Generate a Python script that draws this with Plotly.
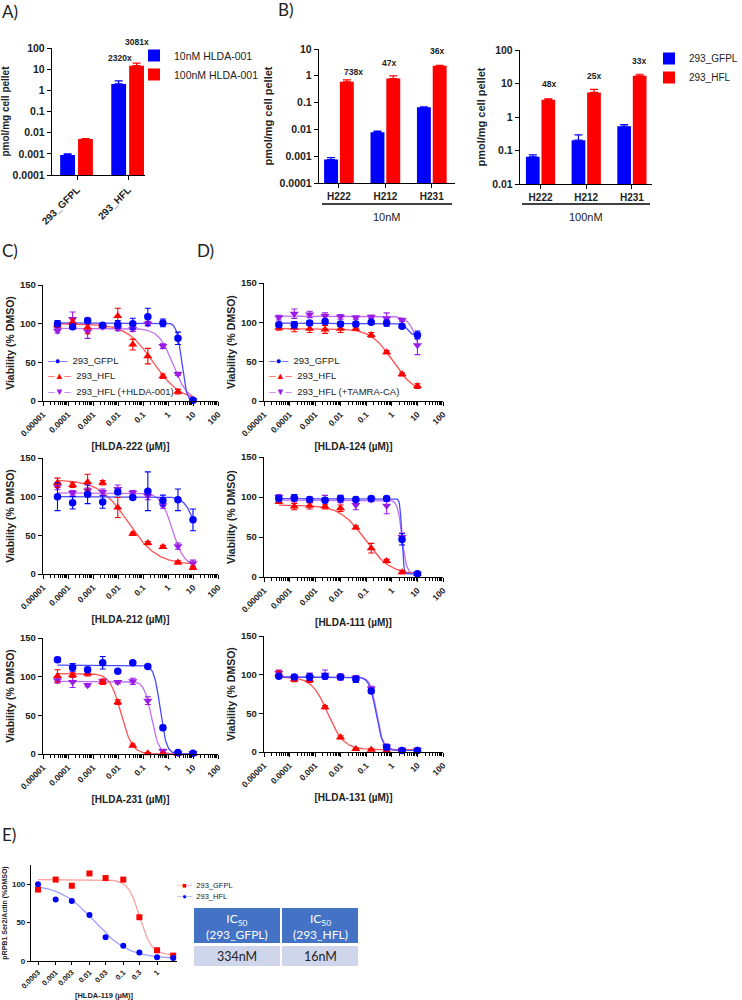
import numpy as np
import plotly.graph_objects as go

W, H = 742, 1000

# ======================= DATA =======================
# Panel A : uptake, pmol/mg cell pellet
a_categories = ['293_GFPL', '293_HFL']
a_series_names = ['10nM HLDA-001', '100nM HLDA-001']
a_10nm = [0.00088, 2.0]
a_10nm_err = [0.00012, 0.8]
a_100nm = [0.005, 14.6]
a_100nm_err = [0.0002, 4.5]
a_fold_labels = ['2320x', '3081x']

# Panel B : uptake of three compounds
b_categories = ['H222', 'H212', 'H231']
b_series_names = ['293_GFPL', '293_HFL']
b10_gfpl = [0.00075, 0.0078, 0.067]
b10_gfpl_err = [0.00014, 0.0008, 0.002]
b10_hfl = [0.6, 0.79, 2.37]
b10_hfl_err = [0.1, 0.2, 0.1]
b10_fold_labels = ['738x', '47x', '36x']
b100_gfpl = [0.065, 0.204, 0.53]
b100_gfpl_err = [0.009, 0.09, 0.06]
b100_hfl = [3.27, 5.4, 16.9]
b100_hfl_err = [0.2, 1.3, 2.0]
b100_fold_labels = ['48x', '25x', '33x']

# Panels C / D : viability (% DMSO) vs concentration (uM)
conc = [0.000038, 0.000153, 0.00061, 0.00244, 0.0098, 0.039, 0.156, 0.625, 2.5, 10.0]
log_ticks = [0.00001, 0.0001, 0.001, 0.01, 0.1, 1, 10, 100]
log_ticktext = ['0.00001', '0.0001', '0.001', '0.01', '0.1', '1', '10', '100']

# fit parameters: [top, bottom, IC50 (uM), hill slope]
v222_gfpl = [100, 96, 104, 98, 99, 100, 109, 101, 81, 1]
v222_gfpl_err = [4, 3, 3, 2, 5, 7, 11, 5, 8, 2]
v222_hfl = [98, 102, 95, 97, 110, 73, 58, 32, 12, 1]
v222_hfl_err = [3, 4, 8, 2, 10, 7, 10, 3, 3, 1]
v222_comp = [91, 106, 90, 96, 94, 93, 100, 71, 35, 1]
v222_comp_err = [3, 9, 9, 2, 3, 3, 3, 3, 2, 1]
fit222_gfpl = [101, 0, 3.5, 4.4]
fit222_hfl = [100, 0, 0.26, 0.8]
fit222_comp = [94, 0, 1.6, 1.5]

v212_gfpl = [100, 92, 103, 93, 106, 99, 107, 95, 96, 70]
v212_gfpl_err = [18, 8, 12, 8, 3, 2, 25, 7, 14, 14]
v212_hfl = [118, 115, 119, 118, 86, 52, 40, 35, 15, 8]
v212_hfl_err = [6, 3, 10, 3, 13, 2, 2, 2, 2, 2]
v212_comp = [113, 105, 108, 106, 110, 105, 101, 89, 36, 14]
v212_comp_err = [4, 3, 3, 4, 5, 3, 5, 4, 4, 4]
fit212_gfpl = [100, 0, 15.5, 1.9]
fit212_hfl = [122, 12, 0.025, 0.75]
fit212_comp = [105, 10, 1.5, 1.85]

v231_gfpl = [122, 112, 109, 118, 107, 118, 113, 34, 2, 1]
v231_gfpl_err = [3, 5, 3, 8, 2, 2, 2, 3, 1, 1]
v231_hfl = [101, 102, 104, 93, 67, 11, 1, 0, 0, 0]
v231_hfl_err = [8, 3, 3, 3, 3, 2, 1, 1, 1, 1]
v231_comp = [95, 93, 89, 94, 93, 94, 69, 4, 1, 1]
v231_comp_err = [3, 7, 2, 3, 2, 4, 5, 2, 1, 1]
fit231_gfpl = [115, 0, 0.49, 3.5]
fit231_hfl = [104, 0, 0.0133, 1.97]
fit231_comp = [94, 0, 0.219, 2.98]

v124_gfpl = [97, 97, 99, 101, 98, 98, 100, 99, 95, 84]
v124_gfpl_err = [3, 4, 3, 3, 3, 3, 2, 4, 2, 5]
v124_hfl = [93, 93, 92, 91, 92, 92, 84, 62, 34, 19]
v124_hfl_err = [3, 5, 5, 5, 5, 2, 3, 2, 2, 3]
v124_comp = [106, 111, 110, 108, 107, 106, 107, 105, 103, 71]
v124_comp_err = [3, 6, 4, 4, 3, 2, 2, 7, 2, 12]
fit124_gfpl = [99, 84, 3.8, 5]
fit124_hfl = [92, 10, 1.07, 1.03]
fit124_comp = [108, 0, 15, 2]

v111_gfpl = [98, 99, 97, 96, 98, 97, 98, 98, 47, 4]
v111_gfpl_err = [3, 4, 3, 3, 4, 3, 3, 3, 7, 2]
v111_hfl = [94, 88, 89, 88, 86, 62, 36, 20, 6, 4]
v111_hfl_err = [2, 4, 4, 3, 4, 2, 6, 2, 2, 1]
v111_comp = [100, 97, 96, 95, 96, 90, 97, 89, 50, 4]
v111_comp_err = [3, 3, 3, 7, 3, 6, 3, 10, 5, 2]
fit111_gfpl = [98, 4, 2.45, 12]
fit111_hfl = [90, 3, 0.09, 0.89]
fit111_comp = [96, 4, 2.5, 5]

v131_gfpl = [98, 97, 97, 98, 97, 94, 79, 6, 2, 2]
v131_gfpl_err = [3, 3, 4, 3, 3, 4, 3, 3, 1, 1]
v131_hfl = [101, 94, 93, 58, 19, 4, 3, 2, 2, 2]
v131_hfl_err = [4, 3, 3, 2, 2, 1, 1, 1, 1, 1]
v131_comp = [102, 96, 97, 100, 97, 96, 82, 7, 3, 3]
v131_comp_err = [4, 3, 5, 6, 4, 3, 3, 3, 1, 1]
fit131_gfpl = [97, 2, 0.242, 3.3]
fit131_hfl = [97, 3, 0.00313, 1.39]
fit131_comp = [97, 3, 0.256, 3.49]

# Panel E : pRPB1 Ser2/Actin (%DMSO)
e_conc = [0.0003, 0.001, 0.003, 0.01, 0.03, 0.1, 0.3, 1, 3]
e_ticks = [0.0003, 0.001, 0.003, 0.01, 0.03, 0.1, 0.3, 1]
e_ticktext = ['0.0003', '0.001', '0.003', '0.01', '0.03', '0.1', '0.3', '1']
e_gfpl = [93, 106, 98, 114, 108, 106, 57, 14, 7]
e_hfl = [100, 80, 78, 60, 31, 20, 11, 5, 4]
e_fit_gfpl = [106, 8, 0.31, 2.5]
e_fit_hfl = [100, 3, 0.014, 0.85]
e_table_header = ['IC<sub>50</sub><br>(293_GFPL)', 'IC<sub>50</sub><br>(293_HFL)']
e_table_values = ['334nM', '16nM']

# ======================= STYLE =======================
FONT = 'Liberation Sans, Arial, sans-serif'
LFONT = 'Lato, Open Sans, sans-serif'
TXT = '#222222'
BLUE, RED, PURPLE = '#0000FF', '#FF0000', '#9A1BE6'
BLUE_L, RED_L, PURPLE_L = '#4a4aff', '#ff5252', '#c170f2'
E_RED_L, E_BLUE_L = '#ff9c9c', '#9c9cff'


def fx(x):
    return x / W


def fy(y):
    return 1 - y / H


def dom_x(x0, x1):
    return [x0 / W, x1 / W]


def dom_y(top, bottom):
    return [1 - bottom / H, 1 - top / H]


def bold(size):
    return dict(family=FONT, size=size, color=TXT, weight='bold')


def base_axis(**kw):
    d = dict(showline=True, linecolor='black', linewidth=1.4, ticks='outside',
             ticklen=4, tickwidth=1.4, tickcolor='black', showgrid=False,
             zeroline=False, automargin=False, tickfont=bold(10))
    d.update(kw)
    return d


def fit_curve(p, xmin, xmax, n=240):
    top, bottom, ic50, hill = p
    xs = np.logspace(np.log10(xmin), np.log10(xmax), n)
    ys = bottom + (top - bottom) / (1 + (xs / ic50) ** hill)
    return xs, ys


fig = go.Figure()
layout = {}
annotations = []
shapes = []

# ======================= PANEL A =======================
fig.add_trace(go.Bar(x=a_categories, y=a_10nm, name=a_series_names[0],
                     marker=dict(color=BLUE, line=dict(width=0)), width=0.29, offset=-0.33,
                     error_y=dict(type='data', array=a_10nm_err, arrayminus=[0] * 2, symmetric=False,
                                  color=BLUE, thickness=1.2, width=4),
                     xaxis='x', yaxis='y', legend='legend'))
fig.add_trace(go.Bar(x=a_categories, y=a_100nm, name=a_series_names[1],
                     marker=dict(color=RED, line=dict(width=0)), width=0.29, offset=0.02,
                     error_y=dict(type='data', array=a_100nm_err, arrayminus=[0] * 2, symmetric=False,
                                  color=RED, thickness=1.2, width=4),
                     xaxis='x', yaxis='y', legend='legend'))
layout['xaxis'] = base_axis(domain=dom_x(52, 145), anchor='y', type='category',
                            range=[-0.49, 1.33], tickangle=-45, tickfont=bold(10))
layout['yaxis'] = base_axis(domain=dom_y(48, 175), anchor='x', type='log', range=[-4, 2],
                            tickvals=[1e-4, 1e-3, 1e-2, 1e-1, 1, 10, 100],
                            ticktext=['0.0001', '0.001', '0.01', '0.1', '1', '10', '100'],
                            tickfont=bold(10.5),
                            title=dict(text='pmol/mg cell pellet', font=bold(10), standoff=4))

# ======================= PANEL B =======================
b_sets = [
    ('x2', 'y2', b10_gfpl, b10_gfpl_err, b10_hfl, b10_hfl_err, False),
    ('x3', 'y3', b100_gfpl, b100_gfpl_err, b100_hfl, b100_hfl_err, True),
]
for xa, ya, g, ge, h, he, show in b_sets:
    fig.add_trace(go.Bar(x=b_categories, y=g, name=b_series_names[0], showlegend=show,
                         marker=dict(color=BLUE, line=dict(width=0)), width=0.3, offset=-0.32,
                         error_y=dict(type='data', array=ge, arrayminus=[0] * 3, symmetric=False,
                                      color=BLUE, thickness=1.2, width=4),
                         xaxis=xa, yaxis=ya, legend='legend2'))
    fig.add_trace(go.Bar(x=b_categories, y=h, name=b_series_names[1], showlegend=show,
                         marker=dict(color=RED, line=dict(width=0)), width=0.3, offset=0.02,
                         error_y=dict(type='data', array=he, arrayminus=[0] * 3, symmetric=False,
                                      color=RED, thickness=1.2, width=4),
                         xaxis=xa, yaxis=ya, legend='legend2'))

layout['xaxis2'] = base_axis(domain=dom_x(319, 455), anchor='y2', type='category',
                             range=[-0.43, 2.5], tickangle=0, tickfont=bold(10))
layout['yaxis2'] = base_axis(domain=dom_y(49, 183), anchor='x2', type='log', range=[-4, 1],
                             tickvals=[1e-4, 1e-3, 1e-2, 1e-1, 1, 10],
                             ticktext=['0.0001', '0.001', '0.01', '0.1', '1', '10'],
                             tickfont=bold(10.5),
                             title=dict(text='pmol/mg cell pellet', font=bold(11), standoff=4))
layout['xaxis3'] = base_axis(domain=dom_x(520, 652), anchor='y3', type='category',
                             range=[-0.45, 2.44], tickangle=0, tickfont=bold(10))
layout['yaxis3'] = base_axis(domain=dom_y(50, 184), anchor='x3', type='log', range=[-2, 2],
                             tickvals=[1e-2, 1e-1, 1, 10, 100],
                             ticktext=['0.01', '0.1', '1', '10', '100'],
                             tickfont=bold(10.5),
                             title=dict(text='pmol/mg cell pellet', font=bold(11), standoff=4))

# ======================= PANELS C / D =======================
panels = [
    ('x4', 'y4', (43, 218), (285, 401), '[HLDA-222 (µM)]', '293_HFL (+HLDA-001)',
     v222_gfpl, v222_gfpl_err, fit222_gfpl, v222_hfl, v222_hfl_err, fit222_hfl,
     v222_comp, v222_comp_err, fit222_comp),
    ('x5', 'y5', (43, 218), (458, 574), '[HLDA-212 (µM)]', '293_HFL (+HLDA-001)',
     v212_gfpl, v212_gfpl_err, fit212_gfpl, v212_hfl, v212_hfl_err, fit212_hfl,
     v212_comp, v212_comp_err, fit212_comp),
    ('x6', 'y6', (43, 218), (638, 754), '[HLDA-231 (µM)]', '293_HFL (+HLDA-001)',
     v231_gfpl, v231_gfpl_err, fit231_gfpl, v231_hfl, v231_hfl_err, fit231_hfl,
     v231_comp, v231_comp_err, fit231_comp),
    ('x7', 'y7', (264, 443), (283, 401), '[HLDA-124 (µM)]', '293_HFL (+TAMRA-CA)',
     v124_gfpl, v124_gfpl_err, fit124_gfpl, v124_hfl, v124_hfl_err, fit124_hfl,
     v124_comp, v124_comp_err, fit124_comp),
    ('x8', 'y8', (264, 443), (457, 577), '[HLDA-111 (µM)]', '293_HFL (+TAMRA-CA)',
     v111_gfpl, v111_gfpl_err, fit111_gfpl, v111_hfl, v111_hfl_err, fit111_hfl,
     v111_comp, v111_comp_err, fit111_comp),
    ('x9', 'y9', (264, 443), (636, 752), '[HLDA-131 (µM)]', '293_HFL (+TAMRA-CA)',
     v131_gfpl, v131_gfpl_err, fit131_gfpl, v131_hfl, v131_hfl_err, fit131_hfl,
     v131_comp, v131_comp_err, fit131_comp),
]

for (xa, ya, xd, yd, xtitle, comp_name,
     g, ge, gf, h, he, hf, c, ce, cf) in panels:
    series = [
        (comp_name, c, ce, cf, PURPLE, PURPLE_L, 'triangle-down', 8),
        ('293_HFL', h, he, hf, RED, RED_L, 'triangle-up', 8),
        ('293_GFPL', g, ge, gf, BLUE, BLUE_L, 'circle', 7.5),
    ]
    for name, vals, errs, fitp, mc, lc, sym, ms in series:
        cx, cy = fit_curve(fitp, min(conc), max(conc))
        fig.add_trace(go.Scatter(x=cx, y=cy, mode='lines', line=dict(color=lc, width=1.3),
                                 showlegend=False, hoverinfo='skip', xaxis=xa, yaxis=ya,
                                 cliponaxis=False))
    for name, vals, errs, fitp, mc, lc, sym, ms in series:
        fig.add_trace(go.Scatter(x=conc, y=vals, mode='markers', name=name,
                                 marker=dict(color=mc, symbol=sym, size=ms, line=dict(width=0)),
                                 error_y=dict(type='data', array=errs, color=mc, thickness=1.1, width=3),
                                 showlegend=False, xaxis=xa, yaxis=ya, cliponaxis=False))
    n = xa[1:]
    layout['xaxis' + n] = base_axis(domain=dom_x(*xd), anchor=ya, type='log', range=[-5, 2],
                                    tickvals=log_ticks, ticktext=log_ticktext, tickangle=-45,
                                    tickfont=bold(8.5),
                                    minor=dict(ticks='outside', ticklen=2.5, tickwidth=1,
                                               tickcolor='black', dtick='D1', showgrid=False),
                                    title=dict(text=xtitle, font=bold(10), standoff=5))
    layout['yaxis' + n] = base_axis(domain=dom_y(*yd), anchor=xa, range=[0, 150],
                                    tickvals=[0, 50, 100, 150], tickfont=bold(9.5),
                                    title=dict(text='Viability (% DMSO)', font=bold(10.5), standoff=3))

# ======================= PANEL E =======================
for vals, fitp, mc, lc, sym, name in [
        (e_gfpl, e_fit_gfpl, RED, E_RED_L, 'square', '293_GFPL'),
        (e_hfl, e_fit_hfl, BLUE, E_BLUE_L, 'circle', '293_HFL')]:
    cx, cy = fit_curve(fitp, min(e_conc), max(e_conc))
    fig.add_trace(go.Scatter(x=cx, y=cy, mode='lines', line=dict(color=lc, width=1.2),
                             showlegend=False, hoverinfo='skip', xaxis='x10', yaxis='y10'))
for vals, fitp, mc, lc, sym, name in [
        (e_gfpl, e_fit_gfpl, RED, E_RED_L, 'square', '293_GFPL'),
        (e_hfl, e_fit_hfl, BLUE, E_BLUE_L, 'circle', '293_HFL')]:
    fig.add_trace(go.Scatter(x=e_conc, y=vals, mode='markers', name=name,
                             marker=dict(color=mc, symbol=sym, size=6, line=dict(width=0)),
                             showlegend=False, xaxis='x10', yaxis='y10', cliponaxis=False))
layout['xaxis10'] = base_axis(domain=dom_x(31, 177), anchor='y10', type='log', range=[-3.73, 0.59],
                              tickvals=e_ticks, ticktext=e_ticktext, tickangle=-45,
                              tickfont=bold(7.5), linewidth=1.2, tickwidth=1.2, ticklen=3,
                              title=dict(text='[HLDA-119 (µM)]', font=bold(7.5), standoff=4))
layout['yaxis10'] = base_axis(domain=dom_y(865, 961), anchor='x10', range=[0, 125],
                              tickvals=[0, 50, 100], tickfont=bold(8), linewidth=1.2,
                              tickwidth=1.2, ticklen=3,
                              title=dict(text='pRPB1 Ser2/Actin (%DMSO)', font=bold(7), standoff=3))

# IC50 table (header + one row), drawn as cells
table_cols = [(194, 280), (282, 358)]
for (x0, x1), head, val in zip(table_cols, e_table_header, e_table_values):
    shapes.append(dict(type='rect', xref='paper', yref='paper', x0=fx(x0), x1=fx(x1),
                       y0=fy(943), y1=fy(908), fillcolor='#4472C4', line=dict(width=0)))
    shapes.append(dict(type='rect', xref='paper', yref='paper', x0=fx(x0), x1=fx(x1),
                       y0=fy(966), y1=fy(946), fillcolor='#CFD5EA', line=dict(width=0)))
    annotations.append(dict(text=head, x=fx((x0 + x1) / 2), y=fy(926), xref='paper', yref='paper',
                            xanchor='center', yanchor='middle', align='center', showarrow=False,
                            font=dict(family=LFONT, size=12, color='white')))
    annotations.append(dict(text=val, x=fx((x0 + x1) / 2), y=fy(956), xref='paper', yref='paper',
                            xanchor='center', yanchor='middle', align='center', showarrow=False,
                            font=dict(family=LFONT, size=12.5, color='#222222')))

# ======================= TEXT =======================
for txt, x, y in [('A)', 0, 11), ('B)', 276, 9), ('C)', 0, 250), ('D)', 195, 250), ('E)', 0, 834)]:
    annotations.append(dict(text=txt, x=fx(x), y=fy(y), xref='paper', yref='paper',
                            xanchor='left', yanchor='middle', showarrow=False,
                            font=dict(family=LFONT, size=17, color=TXT)))

fold_pos = [(120, 58), (137, 42), (353, 72), (389, 63), (437, 51), (549, 84), (594, 76), (639, 61)]
for txt, (x, y) in zip(a_fold_labels + b10_fold_labels + b100_fold_labels, fold_pos):
    annotations.append(dict(text=txt, x=fx(x), y=fy(y), xref='paper', yref='paper',
                            xanchor='center', yanchor='middle', showarrow=False, font=bold(8.5)))

for txt, x0, x1 in [('10nM', 322, 452), ('100nM', 522, 650)]:
    shapes.append(dict(type='line', xref='paper', yref='paper', x0=fx(x0), x1=fx(x1),
                       y0=fy(204), y1=fy(204), line=dict(color='black', width=1.4)))
    annotations.append(dict(text=txt, x=fx((x0 + x1) / 2), y=fy(217), xref='paper', yref='paper',
                            xanchor='center', yanchor='middle', showarrow=False,
                            font=dict(family=FONT, size=11, color=TXT)))


def legend_line(line_c, mark_c, glyph, label):
    return (f'<span style="color:{line_c}">─</span><span style="color:{mark_c}">{glyph}</span>'
            f'<span style="color:{line_c}">─</span>  {label}')


for x0, comp_name in [(45, '293_HFL (+HLDA-001)'), (266, '293_HFL (+TAMRA-CA)')]:
    for (lc, mc, gl, lab), y in zip([(BLUE_L, BLUE, '●', '293_GFPL'),
                                     (RED_L, RED, '▲', '293_HFL'),
                                     (PURPLE_L, PURPLE, '▼', comp_name)], [360, 375, 391]):
        annotations.append(dict(text=legend_line(lc, mc, gl, lab), x=fx(x0), y=fy(y),
                                xref='paper', yref='paper', xanchor='left', yanchor='middle',
                                showarrow=False, font=dict(family=FONT, size=9.5, color=TXT)))

for (lc, mc, gl, lab), y in zip([(E_RED_L, RED, '■', '293_GFPL'), (E_BLUE_L, BLUE, '●', '293_HFL')],
                                [885, 896]):
    annotations.append(dict(text=legend_line(lc, mc, gl, lab), x=fx(174), y=fy(y),
                            xref='paper', yref='paper', xanchor='left', yanchor='middle',
                            showarrow=False, font=dict(family=FONT, size=7.5, color=TXT)))

layout.update(
    template='none',
    width=W, height=H, margin=dict(l=0, r=0, t=0, b=0, autoexpand=False),
    paper_bgcolor='white', plot_bgcolor='white',
    font=dict(family=FONT, color=TXT),
    barmode='overlay',
    showlegend=True,
    legend=dict(x=fx(134), y=fy(41), xanchor='left', yanchor='top', bgcolor='rgba(0,0,0,0)',
                font=dict(family=FONT, size=10.5, color=TXT), itemclick=False),
    legend2=dict(x=fx(649), y=fy(44), xanchor='left', yanchor='top', bgcolor='rgba(0,0,0,0)',
                 font=dict(family=FONT, size=10, color=TXT), itemclick=False),
    annotations=annotations,
    shapes=shapes,
)
fig.update_layout(**layout)
fig.write_html('out.html', config={'displayModeBar': False},
               post_script="document.body.style.margin='0px';")
